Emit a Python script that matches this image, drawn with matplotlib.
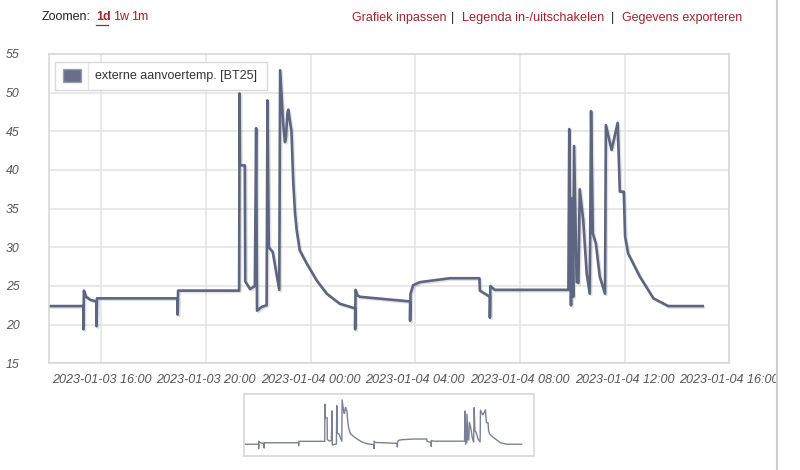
import matplotlib
matplotlib.use("Agg")
import matplotlib.pyplot as plt
import matplotlib.dates as mdates
import matplotlib.patheffects as pe
from matplotlib.patches import Rectangle
from matplotlib.lines import Line2D
import pandas as pd

# ── data ────────────────────────────────────────────────────────
TIMES = [
    "2023-01-03 14:00", "2023-01-03 15:19", "2023-01-03 15:19", "2023-01-03 15:20",
    "2023-01-03 15:25", "2023-01-03 15:35",
    "2023-01-03 15:49", "2023-01-03 15:49", "2023-01-03 15:50", "2023-01-03 18:55",
    "2023-01-03 18:55", "2023-01-03 18:56", "2023-01-03 21:16", "2023-01-03 21:17",
    "2023-01-03 21:18", "2023-01-03 21:29", "2023-01-03 21:30", "2023-01-03 21:41",
    "2023-01-03 21:52", "2023-01-03 21:55", "2023-01-03 21:57", "2023-01-03 22:08",
    "2023-01-03 22:19", "2023-01-03 22:21", "2023-01-03 22:24", "2023-01-03 22:33",
    "2023-01-03 22:48", "2023-01-03 22:50", "2023-01-03 22:57", "2023-01-03 23:01",
    "2023-01-03 23:03", "2023-01-03 23:07", "2023-01-03 23:09", "2023-01-03 23:12",
    "2023-01-03 23:16", "2023-01-03 23:20", "2023-01-03 23:24", "2023-01-03 23:28",
    "2023-01-03 23:35", "2023-01-03 23:51", "2023-01-04 00:14", "2023-01-04 00:37",
    "2023-01-04 01:07", "2023-01-04 01:42", "2023-01-04 01:42", "2023-01-04 01:43",
    "2023-01-04 01:47", "2023-01-04 01:53", "2023-01-04 03:48", "2023-01-04 03:48",
    "2023-01-04 03:49", "2023-01-04 03:55", "2023-01-04 04:11", "2023-01-04 05:19",
    "2023-01-04 06:27", "2023-01-04 06:28", "2023-01-04 06:51", "2023-01-04 06:51",
    "2023-01-04 06:52", "2023-01-04 07:02", "2023-01-04 09:51", "2023-01-04 09:53",
    "2023-01-04 09:57", "2023-01-04 09:59", "2023-01-04 10:02", "2023-01-04 10:04",
    "2023-01-04 10:10", "2023-01-04 10:14", "2023-01-04 10:17", "2023-01-04 10:25",
    "2023-01-04 10:33", "2023-01-04 10:40", "2023-01-04 10:43", "2023-01-04 10:47",
    "2023-01-04 10:54", "2023-01-04 11:03", "2023-01-04 11:15", "2023-01-04 11:17",
    "2023-01-04 11:30", "2023-01-04 11:44", "2023-01-04 11:49", "2023-01-04 11:58",
    "2023-01-04 12:01", "2023-01-04 12:08", "2023-01-04 12:35", "2023-01-04 13:06",
    "2023-01-04 13:40", "2023-01-04 14:59",
]
BT25 = [
    22.4, 22.4, 19.4, 24.4,
    23.6, 23.2,
    23.0, 19.8, 23.4, 23.4,
    21.3, 24.4, 24.4, 49.9,
    40.6, 40.6, 25.6, 24.6,
    25.0, 45.4, 21.8, 22.3,
    22.5, 49.0, 30.0, 29.4,
    24.5, 52.9, 46.0, 43.6,
    44.0, 47.5, 47.8, 46.5,
    45.0, 38.5, 34.5, 32.2,
    29.6, 27.9, 25.7, 24.0,
    22.7, 22.1, 19.4, 24.5,
    23.8, 23.6, 23.0, 20.5,
    24.0, 25.1, 25.5, 26.0,
    26.0, 24.4, 23.6, 20.9,
    25.0, 24.5, 24.5, 45.3,
    22.5, 36.3, 23.6, 43.1,
    25.5, 25.4, 37.5, 33.5,
    26.6, 24.0, 47.6, 31.8,
    30.5, 26.2, 24.0, 45.8,
    42.6, 46.1, 37.2, 37.2,
    31.4, 29.2, 26.2, 23.4,
    22.4, 22.4,
]
SERIES_NAME = "externe aanvoertemp. [BT25]"
Y_TICKS = [15, 20, 25, 30, 35, 40, 45, 50, 55]
X_START, X_END = "2023-01-03 14:00", "2023-01-04 16:00"

LINE = "#5d6580"
RED = "#a3222c"
GRID = "#e3e3e3"
FONT = "Liberation Sans"

plt.rcParams["font.family"] = [FONT, "DejaVu Sans"]

W, H = 800, 470


def fx(x):
    return x / W


def fy(y):
    return 1 - y / H


times = pd.to_datetime(TIMES)

fig = plt.figure(figsize=(W / 100, H / 100), dpi=100)
fig.patch.set_facecolor("white")

# ── main chart ───────────────────────────────────────────────────
ax = fig.add_axes([fx(49), fy(363.3), fx(729.3 - 49), (363.3 - 54) / H])
ax.plot(times, BT25, color=LINE, lw=1.9, solid_joinstyle="round",
        path_effects=[pe.SimpleLineShadow(offset=(1, -1), alpha=0.12, rho=1),
                      pe.Normal()])
ax.set_xlim(pd.Timestamp(X_START), pd.Timestamp(X_END))
ax.set_ylim(15, 55)
ax.set_yticks(Y_TICKS)
ax.xaxis.set_major_locator(mdates.HourLocator(byhour=[0, 4, 8, 12, 16, 20]))
ax.xaxis.set_major_formatter(mdates.DateFormatter("%Y-%m-%d %H:%M"))
ax.grid(True, color=GRID, lw=1.1)
ax.set_axisbelow(True)
for s in ax.spines.values():
    s.set_color("#d6d6d6")
    s.set_linewidth(1.1)
ax.tick_params(axis="both", length=0, labelcolor="#555555")
ax.tick_params(axis="y", pad=21, labelsize=8.8)
ax.tick_params(axis="x", pad=7.5, labelsize=9.1)
for lab in ax.get_xticklabels() + ax.get_yticklabels():
    lab.set_fontstyle("italic")
for lab in ax.get_yticklabels():
    lab.set_horizontalalignment("right")

# legend box, drawn like the original (patch | divider | text)
fig.add_artist(Rectangle((fx(55), fy(90)), fx(212), 28 / H, transform=fig.transFigure,
                         facecolor="white", edgecolor="#dadada", lw=1, zorder=5))
fig.add_artist(Rectangle((fx(63), fy(82.3)), fx(17.5), 13 / H, transform=fig.transFigure,
                         facecolor="#676e87", edgecolor="#9aa0b2", lw=1, zorder=6))
fig.add_artist(Line2D([fx(88), fx(88)], [fy(63), fy(89)], transform=fig.transFigure,
                      color="#e4e4e4", lw=1, zorder=6))
fig.text(fx(95), fy(76.5), SERIES_NAME, fontsize=9, color="#333333",
         va="center", ha="left", zorder=7)

# ── navigator ────────────────────────────────────────────────────
nav = fig.add_axes([fx(244), fy(456), fx(290), 62 / H])
nav.plot(times, BT25, color="#7b8096", lw=1.0)
nav.set_xlim(pd.Timestamp(X_START), pd.Timestamp("2023-01-04 16:06"))
nav.set_ylim(14.3, 57)
nav.set_xticks([])
nav.set_yticks([])
for s in nav.spines.values():
    s.set_color("#dddddd")
    s.set_linewidth(1.4)

# ── header links ─────────────────────────────────────────────────
hy = fy(17.5)
fig.text(fx(42), hy, "Zoomen:", fontsize=9, color="#222222", va="center")
fig.text(fx(96), hy, "1d", fontsize=9, color=RED, va="center", fontweight="bold")
fig.add_artist(Line2D([fx(96), fx(108)], [fy(25), fy(25)], transform=fig.transFigure,
                      color=RED, lw=0.9))
fig.text(fx(113), hy, "1w", fontsize=9, color=RED, va="center")
fig.text(fx(131), hy, "1m", fontsize=9, color=RED, va="center")
fig.text(fx(352), hy, "Grafiek inpassen", fontsize=9, color=RED, va="center")
fig.text(fx(451), hy, "|", fontsize=9, color="#222222", va="center")
fig.text(fx(462), hy, "Legenda in-/uitschakelen", fontsize=9.2, color=RED, va="center")
fig.text(fx(611), hy, "|", fontsize=9, color="#222222", va="center")
fig.text(fx(622), hy, "Gegevens exporteren", fontsize=9, color=RED, va="center")

# page edge on the right clips the last tick label
fig.add_artist(Rectangle((fx(777), 0), fx(W - 777), 1, transform=fig.transFigure,
                         facecolor="white", edgecolor="none", zorder=20))
fig.add_artist(Line2D([fx(777), fx(777)], [0, 1], transform=fig.transFigure,
                      color="#cfcfcf", lw=1.5, zorder=21))

fig.savefig("out.png", dpi=100)
